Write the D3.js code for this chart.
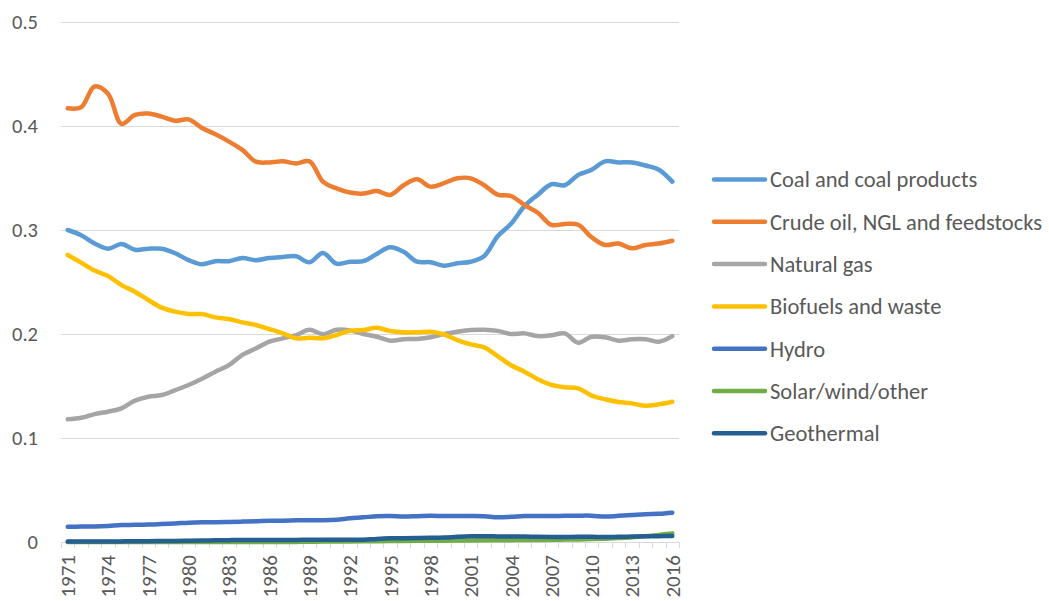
<!DOCTYPE html>
<html>
<head>
<meta charset="utf-8">
<script src="https://cdn.jsdelivr.net/npm/d3@7"></script>
<style>
  body { margin: 0; background: #fff; }
  text { font-family: Calibri, Carlito, "Liberation Sans", Arial, sans-serif; fill: #595959; }
</style>
</head>
<body>
<svg id="chart" width="1049" height="601"></svg>
<script>
"use strict"

// years on the category axis
var years = d3.range(1971, 2017);

var seriesNames = ["Coal and coal products", "Crude oil, NGL and feedstocks", "Natural gas",
  "Biofuels and waste", "Hydro", "Solar/wind/other", "Geothermal"];
var seriesColors = ["#5B9BD5", "#ED7D31", "#A5A5A5", "#FFC000", "#4472C4", "#70AD47", "#255E91"];

// shares, 1971..2016
var coal = [0.300, 0.295, 0.287, 0.282, 0.2865, 0.281, 0.282, 0.282, 0.2776, 0.271,
  0.267, 0.270, 0.270, 0.273, 0.271, 0.273, 0.274, 0.2747, 0.269, 0.278,
  0.2676, 0.2695, 0.270, 0.277, 0.2834, 0.279, 0.2695, 0.269, 0.2657, 0.268,
  0.2695, 0.275, 0.294, 0.306, 0.323, 0.334, 0.344, 0.343, 0.353, 0.358,
  0.366, 0.365, 0.365, 0.362, 0.358, 0.3465];
var crude = [0.417, 0.418, 0.438, 0.431, 0.402, 0.4106, 0.412, 0.409, 0.405, 0.4064,
  0.398, 0.392, 0.385, 0.377, 0.3657, 0.365, 0.366, 0.364, 0.366, 0.3465,
  0.340, 0.336, 0.335, 0.3375, 0.3337, 0.343, 0.3487, 0.3417, 0.345, 0.3497,
  0.3497, 0.343, 0.334, 0.3327, 0.324, 0.3166, 0.305, 0.3058, 0.305, 0.293,
  0.2856, 0.287, 0.2824, 0.2856, 0.287, 0.2897];
var gas = [0.118, 0.1195, 0.123, 0.1253, 0.1285, 0.1359, 0.1397, 0.1413, 0.146, 0.151,
  0.157, 0.1638, 0.170, 0.180, 0.186, 0.1926, 0.1958, 0.199, 0.204, 0.1997,
  0.204, 0.2035, 0.200, 0.1974, 0.1936, 0.195, 0.1952, 0.1968, 0.200, 0.2022,
  0.2038, 0.204, 0.203, 0.200, 0.2006, 0.198, 0.1987, 0.2006, 0.1916, 0.1974,
  0.1968, 0.1936, 0.195, 0.195, 0.1926, 0.198];
var biofuels = [0.276, 0.2686, 0.261, 0.2558, 0.247, 0.2407, 0.2327, 0.2253, 0.2215, 0.2192,
  0.2192, 0.216, 0.2144, 0.2112, 0.2087, 0.2048, 0.2007, 0.1958, 0.1964, 0.1958,
  0.199, 0.2032, 0.2038, 0.206, 0.2029, 0.2016, 0.2016, 0.2022, 0.1997, 0.1942,
  0.190, 0.1872, 0.1788, 0.170, 0.1638, 0.1564, 0.151, 0.1487, 0.1478, 0.1407,
  0.1372, 0.1346, 0.1333, 0.131, 0.1324, 0.1349];
var hydro = [0.0147, 0.0148, 0.015, 0.0155, 0.0163, 0.0165, 0.0168, 0.0172, 0.0178, 0.0186,
  0.019, 0.019, 0.0192, 0.0196, 0.020, 0.0205, 0.0205, 0.0208, 0.021, 0.021,
  0.0215, 0.0228, 0.0237, 0.0248, 0.025, 0.0245, 0.0248, 0.0252, 0.025, 0.025,
  0.025, 0.0248, 0.0237, 0.0242, 0.025, 0.025, 0.025, 0.0252, 0.0253, 0.0253,
  0.0244, 0.0252, 0.026, 0.0268, 0.0272, 0.0282];
var solar = [0.0, 0.0, 0.0, 0.0, 0.0, 0.0, 0.0, 0.0, 0.0, 0.0,
  0.0, 0.0, 0.0, 0.0, 0.0, 0.0, 0.0, 0.0, 0.0003, 0.0004,
  0.0005, 0.0006, 0.0007, 0.0008, 0.0009, 0.001, 0.0011, 0.0012, 0.0013, 0.0014,
  0.0015, 0.0016, 0.0017, 0.0018, 0.0019, 0.002, 0.0021, 0.0023, 0.0025, 0.0028,
  0.0032, 0.0038, 0.0045, 0.0055, 0.0068, 0.0083];
var geothermal = [0.0005, 0.0005, 0.0005, 0.0005, 0.0006, 0.0007, 0.0008, 0.0009, 0.001, 0.0012,
  0.0014, 0.0016, 0.0018, 0.0019, 0.002, 0.002, 0.002, 0.002, 0.0021, 0.0021,
  0.0021, 0.0021, 0.0022, 0.003, 0.0035, 0.0036, 0.0038, 0.004, 0.0043, 0.005,
  0.0055, 0.0055, 0.0054, 0.0053, 0.0052, 0.005, 0.0048, 0.0048, 0.005, 0.005,
  0.0048, 0.005, 0.0052, 0.0055, 0.0056, 0.0058];

var yTicks = [0, 0.1, 0.2, 0.3, 0.4, 0.5];
var yLabels = ["0", "0.1", "0.2", "0.3", "0.4", "0.5"];
var xLabelYears = d3.range(1971, 2017, 3);

var allSeries = [coal, crude, gas, biofuels, hydro, solar, geothermal];

var svg = d3.select("#chart");

var x = d3.scaleBand().domain(years).range([61, 679]);
var y = d3.scaleLinear().domain([0, 0.5]).range([542, 22]);

function cx(yr) { return x(yr) + x.bandwidth() / 2; }

// horizontal gridlines
svg.append("g").selectAll("line")
  .data(yTicks.slice(1))
  .enter().append("line")
  .attr("x1", 61).attr("x2", 679)
  .attr("y1", function(d) { return Math.round(y(d)) + 0.5; })
  .attr("y2", function(d) { return Math.round(y(d)) + 0.5; })
  .attr("stroke", "#D9D9D9").attr("stroke-width", 1);

// y labels
svg.append("g").selectAll("text")
  .data(yTicks)
  .enter().append("text")
  .attr("x", 38)
  .attr("y", function(d) { return y(d); })
  .attr("dy", "0.35em")
  .attr("text-anchor", "end")
  .attr("font-size", 20.5)
  .text(function(d, i) { return yLabels[i]; });

// category axis: line + tick marks at boundaries
var axis = svg.append("g");
axis.append("line")
  .attr("x1", 61).attr("x2", 679)
  .attr("y1", y(0) + 0.5).attr("y2", y(0) + 0.5)
  .attr("stroke", "#D9D9D9").attr("stroke-width", 1);
var bounds = years.map(function(d) { return x(d); }).concat([x.range()[1]]);
axis.selectAll("line.tick")
  .data(bounds)
  .enter().append("line")
  .attr("class", "tick")
  .attr("x1", function(d) { return Math.round(d) + 0.5; })
  .attr("x2", function(d) { return Math.round(d) + 0.5; })
  .attr("y1", y(0)).attr("y2", y(0) + 6)
  .attr("stroke", "#D9D9D9").attr("stroke-width", 1);

axis.selectAll("text")
  .data(xLabelYears)
  .enter().append("text")
  .attr("transform", function(d) { return "translate(" + (cx(d) + 0.5) + "," + 555 + ") rotate(-90)"; })
  .attr("dy", "0.33em")
  .attr("text-anchor", "end")
  .attr("font-size", 21)
  .text(function(d) { return d; });

// the lines
var line = d3.line()
  .x(function(d, i) { return cx(years[i]); })
  .y(function(d) { return y(d); })
  .curve(d3.curveCatmullRom.alpha(0.5));

svg.append("g").selectAll("path")
  .data(allSeries)
  .enter().append("path")
  .attr("d", function(d) { return line(d); })
  .attr("fill", "none")
  .attr("stroke", function(d, i) { return seriesColors[i]; })
  .attr("stroke-width", 4.5)
  .attr("stroke-linecap", "round")
  .attr("stroke-linejoin", "round");

// legend
var legend = svg.append("g").selectAll("g")
  .data(seriesNames)
  .enter().append("g")
  .attr("transform", function(d, i) { return "translate(714," + (179.5 + i * 42.3) + ")"; });
legend.append("line")
  .attr("x1", 0).attr("x2", 51)
  .attr("stroke", function(d, i) { return seriesColors[i]; })
  .attr("stroke-width", 4.5)
  .attr("stroke-linecap", "round");
legend.append("text")
  .attr("x", 56)
  .attr("dy", "0.35em")
  .attr("font-size", 22.5)
  .text(function(d) { return d; });
</script>
</body>
</html>
